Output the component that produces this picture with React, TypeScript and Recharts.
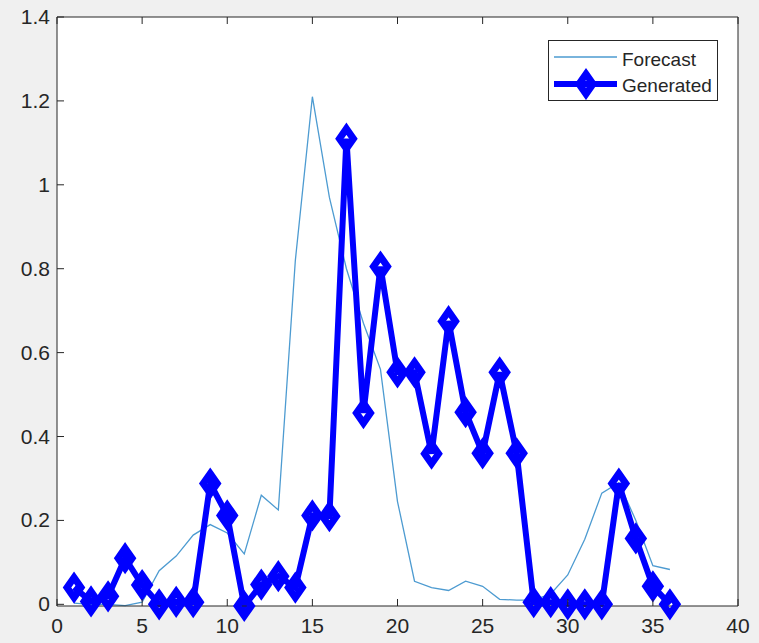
import { Line, LineChart, XAxis, YAxis } from 'recharts'

const steps = [1, 2, 3, 4, 5, 6, 7, 8, 9, 10, 11, 12, 13, 14, 15, 16, 17, 18, 19, 20, 21, 22, 23, 24, 25, 26, 27, 28, 29, 30, 31, 32, 33, 34, 35, 36]
const forecast = [0.003, 0, 0, -0.003, 0.005, 0.08, 0.115, 0.165, 0.19, 0.17, 0.12, 0.26, 0.225, 0.82, 1.21, 0.97, 0.8, 0.67, 0.56, 0.245, 0.055, 0.04, 0.033, 0.055, 0.043, 0.012, 0.01, 0.01, 0.025, 0.07, 0.155, 0.265, 0.29, 0.2, 0.092, 0.083]
const generated = [0.04, 0.007, 0.019, 0.11, 0.046, 0, 0.006, 0.005, 0.288, 0.212, -0.004, 0.047, 0.067, 0.04, 0.212, 0.21, 1.11, 0.456, 0.805, 0.553, 0.553, 0.359, 0.675, 0.458, 0.36, 0.553, 0.36, 0.005, 0.005, 0, 0, 0, 0.288, 0.157, 0.043, 0]
const xTicks = [0, 5, 10, 15, 20, 25, 30, 35, 40]
const yTicks = [0, 0.2, 0.4, 0.6, 0.8, 1, 1.2, 1.4]

const data = steps.map((s, i) => ({ step: s, forecast: forecast[i], generated: generated[i] }))

const INK = '#262626'
const FORECAST = '#4d9bd1'
const GEN = '#0000ff'
const FONT = '"Liberation Sans", Arial, sans-serif'

function BottomTick({ x, y, payload }: any) {
  return (
    <g>
      <line x1={x} x2={x} y1={y - 8} y2={y - 15} stroke={INK} strokeWidth={1} />
      <text x={x} y={y} dy={19} textAnchor="middle" fontSize={21} fontFamily={FONT} fill={INK}>
        {payload.value}
      </text>
    </g>
  )
}

function LeftTick({ x, y, payload }: any) {
  return (
    <g>
      <line x1={x + 7} x2={x + 14} y1={y} y2={y} stroke={INK} strokeWidth={1} />
      <text x={x} y={y} dy={7} textAnchor="end" fontSize={21} fontFamily={FONT} fill={INK}>
        {payload.value}
      </text>
    </g>
  )
}

function TopTick({ x, y }: any) {
  return <line x1={x} x2={x} y1={y} y2={y + 7} stroke={INK} strokeWidth={1} />
}

function RightTick({ x, y }: any) {
  return <line x1={x} x2={x - 7} y1={y} y2={y} stroke={INK} strokeWidth={1} />
}

function Diamond({ cx, cy }: any) {
  if (cx == null || cy == null) return null
  return (
    <path
      d={`M${cx},${cy - 10} L${cx + 7},${cy} L${cx},${cy + 10} L${cx - 7},${cy} Z`}
      fill="none"
      stroke={GEN}
      strokeWidth={7}
      strokeLinejoin="miter"
    />
  )
}

function LegendBox() {
  return (
    <div
      style={{
        position: 'absolute',
        left: 548,
        top: 40,
        width: 168,
        height: 59,
        background: '#fff',
        border: `1px solid ${INK}`,
      }}
    >
      <svg width={168} height={59} style={{ position: 'absolute', left: 0, top: 0 }}>
        <line x1={5} x2={68} y1={16} y2={16} stroke={FORECAST} strokeWidth={1.5} />
        <line x1={5} x2={68} y1={43} y2={43} stroke={GEN} strokeWidth={6} />
        <Diamond cx={37} cy={43} />
        <text x={73} y={25} fontSize={19} fontFamily={FONT} fill={INK}>Forecast</text>
        <text x={73} y={51} fontSize={19} fontFamily={FONT} fill={INK}>Generated</text>
      </svg>
    </div>
  )
}

export default function App() {
  return (
    <div style={{ position: 'absolute', left: 0, top: 0, width: 759, height: 643, background: '#f0f0f0' }}>
      <div style={{ position: 'absolute', left: 57, top: 17, width: 681, height: 589, background: '#fff' }} />
      <div style={{ position: 'absolute', left: 0, top: 0 }}>
        <LineChart width={759} height={643} data={data} margin={{ top: 0, right: 0, bottom: 0, left: 0 }}>
          <XAxis
            xAxisId="b"
            dataKey="step"
            type="number"
            domain={[0, 40]}
            ticks={xTicks}
            height={37}
            tickSize={0}
            tickMargin={8}
            tick={<BottomTick />}
            axisLine={{ stroke: INK }}
            interval={0}
          />
          <XAxis
            xAxisId="t"
            orientation="top"
            dataKey="step"
            type="number"
            domain={[0, 40]}
            ticks={xTicks}
            height={17}
            tickSize={0}
            tickMargin={0}
            tick={<TopTick />}
            axisLine={{ stroke: INK }}
            interval={0}
          />
          <YAxis
            yAxisId="l"
            type="number"
            domain={[0, 1.4]}
            ticks={yTicks}
            width={57}
            tickSize={0}
            tickMargin={7}
            tick={<LeftTick />}
            axisLine={{ stroke: INK }}
            interval={0}
          />
          <YAxis
            yAxisId="r"
            orientation="right"
            type="number"
            domain={[0, 1.4]}
            ticks={yTicks}
            width={21}
            tickSize={0}
            tickMargin={0}
            tick={<RightTick />}
            axisLine={{ stroke: INK }}
            interval={0}
          />
          <Line
            xAxisId="b"
            yAxisId="l"
            dataKey="forecast"
            type="linear"
            stroke={FORECAST}
            strokeWidth={1.3}
            dot={false}
            activeDot={false}
            isAnimationActive={false}
          />
          <Line
            xAxisId="b"
            yAxisId="l"
            dataKey="generated"
            type="linear"
            stroke={GEN}
            strokeWidth={6}
            strokeLinejoin="miter"
            dot={<Diamond />}
            activeDot={false}
            isAnimationActive={false}
          />
        </LineChart>
      </div>
      <LegendBox />
    </div>
  )
}
